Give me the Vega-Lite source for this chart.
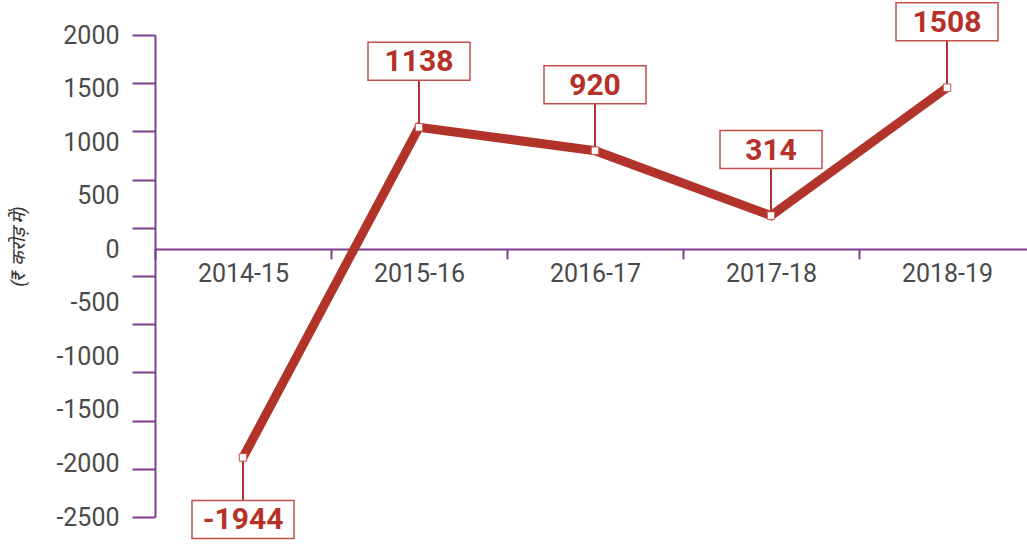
{
  "$schema": "https://vega.github.io/schema/vega-lite/v6.json",
  "width": 880,
  "height": 482,
  "autosize": {"type": "none"},
  "padding": {"left": 155, "top": 35, "right": 0, "bottom": 29},
  "background": "white",
  "config": {"view": {"stroke": null}, "font": "Roboto"},
  "data": {"values": [
    {"year": "2014-15", "value": -1944},
    {"year": "2015-16", "value": 1138},
    {"year": "2016-17", "value": 920},
    {"year": "2017-18", "value": 314},
    {"year": "2018-19", "value": 1508}
  ]},
  "encoding": {
    "x": {
      "field": "year", "type": "nominal", "sort": null,
      "scale": {"paddingInner": 0, "paddingOuter": 0},
      "axis": {
        "title": null, "orient": "bottom", "offset": -268,
        "domainColor": "#7f3f8f", "domainWidth": 2,
        "tickColor": "#7f3f8f", "tickWidth": 2, "tickSize": 10, "tickBand": "extent",
        "labelAngle": 0, "labelFontSize": 25, "labelColor": "#4a4a4a", "labelPadding": 2,
        "labelFont": "Roboto", "grid": false
      }
    }
  },
  "layer": [
    {
      "mark": {"type": "line", "color": "#b13329", "strokeWidth": 9, "strokeJoin": "miter", "strokeCap": "butt"},
      "encoding": {
        "y": {
          "field": "value", "type": "quantitative",
          "scale": {"domain": [-2500, 2000], "nice": false, "zero": false},
          "axis": {
            "title": "(₹ करोड़ में)", "orient": "left",
            "values": [-2500, -2000, -1500, -1000, -500, 0, 500, 1000, 1500, 2000],
            "labelExpr": "'' + datum.value",
            "ticks": false, "domain": false, "grid": false,
            "labelFontSize": 25, "labelColor": "#4a4a4a", "labelPadding": 36, "labelFont": "Roboto",
            "titleFontSize": 19, "titleFontStyle": "italic", "titleFontWeight": "normal",
            "titleColor": "#333333", "titleX": -137, "titleY": 211, "titleAngle": -90,
            "titleAlign": "center", "titleBaseline": "middle"
          }
        }
      }
    },
    {
      "transform": [{"filter": "datum.value > 0"}],
      "mark": {"type": "rule", "color": "#b13329", "strokeWidth": 2, "y2Offset": -47},
      "encoding": {
        "y": {"field": "value", "type": "quantitative", "scale": {"domain": [-2500, 2000], "nice": false, "zero": false}, "axis": null},
        "y2": {"field": "value"}
      }
    },
    {
      "transform": [{"filter": "datum.value < 0"}],
      "mark": {"type": "rule", "color": "#b13329", "strokeWidth": 2, "y2Offset": 43},
      "encoding": {
        "y": {"field": "value", "type": "quantitative", "scale": {"domain": [-2500, 2000], "nice": false, "zero": false}, "axis": null},
        "y2": {"field": "value"}
      }
    },
    {
      "transform": [{"filter": "datum.value > 0"}],
      "mark": {"type": "point", "shape": "M-1,-0.373H1V0.373H-1Z", "size": 10404, "filled": false, "fill": "white", "fillOpacity": 1, "stroke": "#c4504a", "strokeWidth": 1.5, "opacity": 1, "yOffset": -66},
      "encoding": {
        "y": {"field": "value", "type": "quantitative", "scale": {"domain": [-2500, 2000], "nice": false, "zero": false}, "axis": null}
      }
    },
    {
      "transform": [{"filter": "datum.value < 0"}],
      "mark": {"type": "point", "shape": "M-1,-0.373H1V0.373H-1Z", "size": 10404, "filled": false, "fill": "white", "fillOpacity": 1, "stroke": "#c4504a", "strokeWidth": 1.5, "opacity": 1, "yOffset": 62},
      "encoding": {
        "y": {"field": "value", "type": "quantitative", "scale": {"domain": [-2500, 2000], "nice": false, "zero": false}, "axis": null}
      }
    },
    {
      "transform": [{"filter": "datum.value > 0"}],
      "mark": {"type": "text", "font": "Roboto", "fontWeight": "bold", "fontSize": 30, "color": "#b5312a", "baseline": "middle", "align": "center", "yOffset": -65},
      "encoding": {
        "y": {"field": "value", "type": "quantitative", "scale": {"domain": [-2500, 2000], "nice": false, "zero": false}, "axis": null},
        "text": {"field": "value", "type": "nominal"}
      }
    },
    {
      "transform": [{"filter": "datum.value < 0"}],
      "mark": {"type": "text", "font": "Roboto", "fontWeight": "bold", "fontSize": 30, "color": "#b5312a", "baseline": "middle", "align": "center", "yOffset": 63},
      "encoding": {
        "y": {"field": "value", "type": "quantitative", "scale": {"domain": [-2500, 2000], "nice": false, "zero": false}, "axis": null},
        "text": {"field": "value", "type": "nominal"}
      }
    },
    {
      "mark": {"type": "point", "shape": "square", "size": 56, "filled": false, "fill": "white", "fillOpacity": 1, "stroke": "#c4504a", "strokeWidth": 1, "opacity": 1},
      "encoding": {
        "y": {
          "field": "value", "type": "quantitative",
          "scale": {"domain": [-2500, 2000], "nice": false, "zero": false},
          "axis": {
            "orient": "left", "title": null, "labels": false,
            "values": [-2500, -2050, -1600, -1150, -700, -250, 200, 650, 1100, 1550, 2000],
            "ticks": true, "tickSize": 23, "tickWidth": 2, "tickColor": "#7f3f8f",
            "domain": true, "domainColor": "#7f3f8f", "domainWidth": 2, "grid": false
          }
        }
      }
    }
  ],
  "resolve": {"axis": {"y": "independent"}}
}
